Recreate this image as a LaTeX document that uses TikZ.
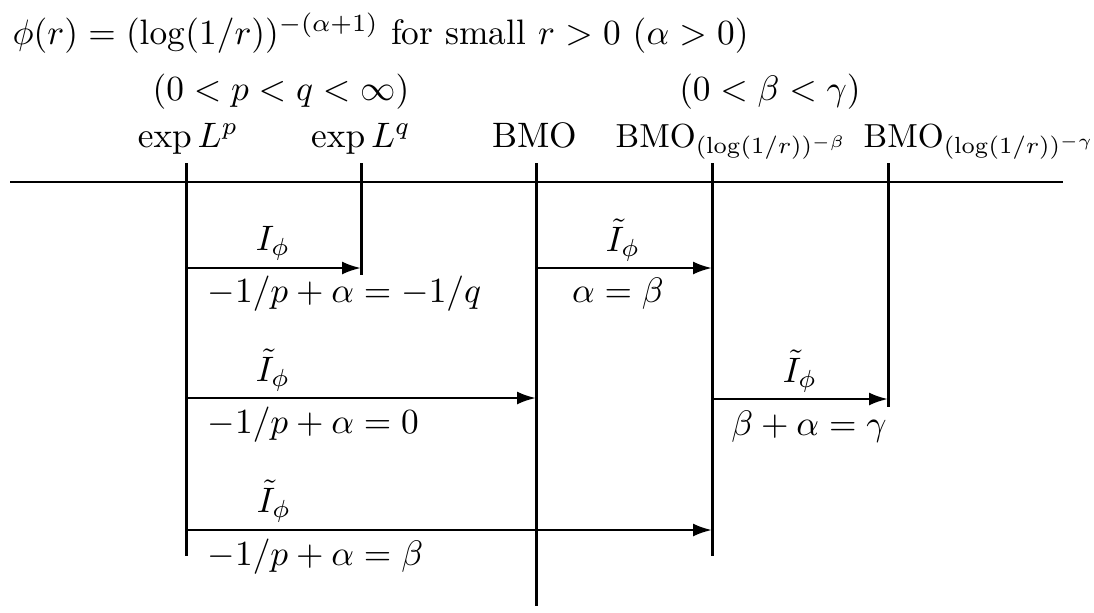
\documentclass[tikz,border=0pt]{standalone}
\usepackage{graphicx}
\usetikzlibrary{arrows.meta}
\newcommand{\sz}[1]{\scalebox{1.06}{#1}}
\begin{document}
\begin{tikzpicture}[x=0.3pt,y=-0.3pt,
  txt/.style={inner sep=0pt,anchor=base west},
  ctxt/.style={inner sep=0pt,anchor=base},
  axis/.style={line width=0.75pt},
  vline/.style={line width=0.9pt},
  arr/.style={line width=0.75pt,-{Latex[length=5.7pt,width=3.9pt]}}]
\useasboundingbox (0,0) rectangle (1094,612);
% header texts
\node[txt] (title) at (12,44) {\sz{\makebox[208.3pt][s]{$\phi(r)=(\log(1/r))^{-(\alpha+1)}$ for small $r>0$ $(\alpha>0)$}}};
\node[ctxt] (cpq) at (281,100) {\sz{$(0<p<q<\infty)$}};
\node[ctxt] (cbg) at (770,100) {\sz{$(0<\beta<\gamma)$}};
\node[ctxt] (lp) at (188,147) {\sz{$\exp L^p$}};
\node[ctxt] (lq) at (361,147) {\sz{$\exp L^q$}};
\node[ctxt] (bmo) at (535,147) {\sz{BMO}};
\node[txt] (bmob) at (615,147) {$\mathrm{BMO}_{(\log(1/r))^{-\beta}}$};
\node[txt] (bmog) at (863,147) {$\mathrm{BMO}_{(\log(1/r))^{-\gamma}}$};
% axis
\coordinate (axL) at (10,182);
\coordinate (axR) at (1063,182);
\draw[axis] (axL) -- (axR);
% vertical lines
\coordinate (tp) at (186,163); \coordinate (bp) at (186,556);
\coordinate (tq) at (361,163); \coordinate (bq) at (361,275);
\coordinate (tb) at (536,163); \coordinate (bb) at (536,606);
\coordinate (tbb) at (712,163); \coordinate (bbb) at (712,556);
\coordinate (tbg) at (888,163); \coordinate (bbg) at (888,407);
\draw[vline] (tp) -- (bp);
\draw[vline] (tq) -- (bq);
\draw[vline] (tb) -- (bb);
\draw[vline] (tbb) -- (bbb);
\draw[vline] (tbg) -- (bbg);
% arrows
\coordinate (a1s) at (186,268); \coordinate (a1e) at (361,268);
\coordinate (a2s) at (536,268); \coordinate (a2e) at (712,268);
\coordinate (a3s) at (186,398); \coordinate (a3e) at (536,398);
\coordinate (a4s) at (712,399); \coordinate (a4e) at (888,399);
\coordinate (a5s) at (186,530); \coordinate (a5e) at (712,530);
\draw[arr] (a1s) -- (a1e);
\draw[arr] (a2s) -- (a2e);
\draw[arr] (a3s) -- (a3e);
\draw[arr] (a4s) -- (a4e);
\draw[arr] (a5s) -- (a5e);
% arrow labels
\node[ctxt] (o1) at (273,250) {\sz{$I_\phi$}};
\node[txt] (u1) at (207,302) {\sz{$-1/p+\alpha=-1/q$}};
\node[ctxt] (o2) at (623,251) {\sz{$\tilde I_\phi$}};
\node[ctxt] (u2) at (618,302) {\sz{$\alpha=\beta$}};
\node[ctxt] (o3) at (273,381) {\sz{$\tilde I_\phi$}};
\node[txt] (u3) at (207,433) {\sz{$-1/p+\alpha=0$}};
\node[ctxt] (o4) at (800,382) {\sz{$\tilde I_\phi$}};
\node[ctxt] (u4) at (809,435) {\sz{$\beta+\alpha=\gamma$}};
\node[ctxt] (o5) at (274,512) {\sz{$\tilde I_\phi$}};
\node[txt] (u5) at (207,565) {\sz{$-1/p+\alpha=\beta$}};
\end{tikzpicture}
\end{document}
